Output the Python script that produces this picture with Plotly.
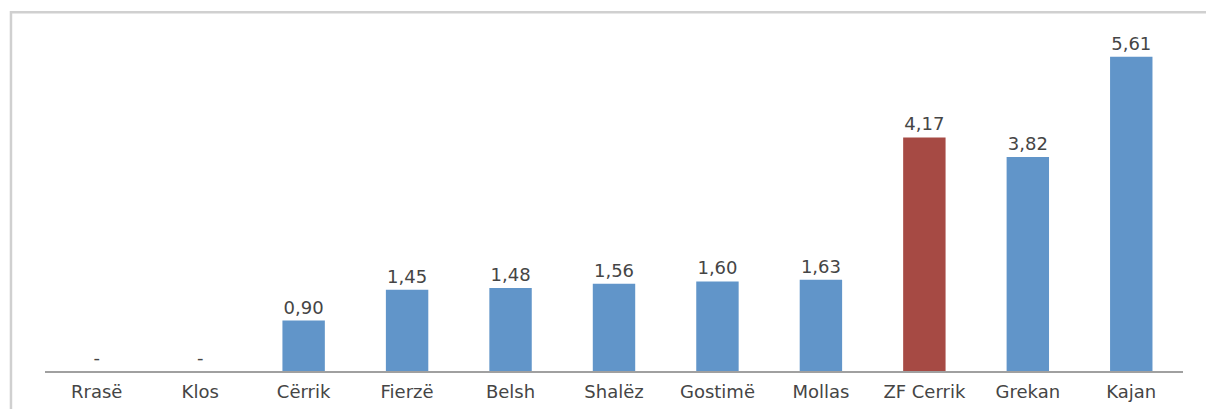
import plotly.graph_objects as go

categories = ["Rrasë", "Klos", "Cërrik", "Fierzë", "Belsh", "Shalëz", "Gostimë", "Mollas", "ZF Cerrik", "Grekan", "Kajan"]
values = [0, 0, 0.90, 1.45, 1.48, 1.56, 1.60, 1.63, 4.17, 3.82, 5.61]
labels = ["-", "-", "0,90", "1,45", "1,48", "1,56", "1,60", "1,63", "4,17", "3,82", "5,61"]
highlight = "ZF Cerrik"

colors = ["#A64A44" if c == highlight else "#6195C9" for c in categories]

FONT = "DejaVu Sans"

fig = go.Figure(go.Bar(
    x=categories, y=values, text=labels, textposition="outside",
    marker=dict(color=colors, line=dict(width=0)),
    textfont=dict(family=FONT, size=18, color="#454545"),
    cliponaxis=False, width=0.41,
))

fig.update_layout(
    width=1214, height=409,
    margin=dict(l=37, r=39, t=27, b=46),
    plot_bgcolor="white", paper_bgcolor="white",
    showlegend=False,
    font=dict(family=FONT, size=18, color="#454545"),
    xaxis=dict(showline=True, linecolor="#a0a0a0", linewidth=1.5, ticks="",
               ticklabelstandoff=4,
               tickfont=dict(family=FONT, size=18, color="#454545")),
    yaxis=dict(range=[0, 6], visible=False, showgrid=False),
    shapes=[dict(type="rect", xref="paper", yref="paper",
                 x0=-0.0299, x1=1.06, y0=-0.3, y1=1.068,
                 line=dict(color="#d0d0d0", width=2.5), fillcolor="rgba(0,0,0,0)", layer="below")],
)

fig.write_html("out.html")
